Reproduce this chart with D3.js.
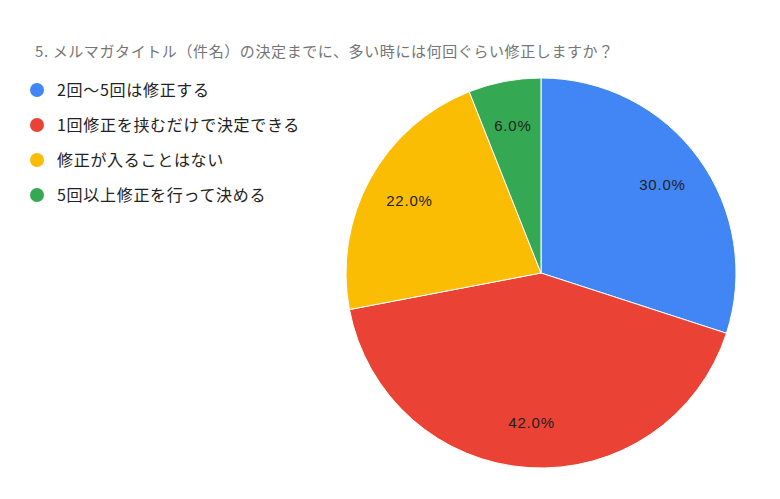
<!DOCTYPE html>
<html>
<head>
<meta charset="utf-8">
<script src="https://cdn.jsdelivr.net/npm/d3@7"></script>
<style>
  body { margin: 0; background: #fff; }
  svg { display: block; font-family: "Noto Sans CJK JP", "Noto Sans", sans-serif; }
</style>
</head>
<body>
<svg id="chart"></svg>
<script>
// data
const title = "5. メルマガタイトル（件名）の決定までに、多い時には何回ぐらい修正しますか？";
const categories = ["2回〜5回は修正する", "1回修正を挟むだけで決定できる", "修正が入ることはない", "5回以上修正を行って決める"];
const values = [30, 42, 22, 6];
const colors = ["#4285F4", "#EA4335", "#FBBC04", "#34A853"];

const width = 780, height = 499;
const cx = 541, cy = 273, radius = 195;

const svg = d3.select("#chart").attr("width", width).attr("height", height);

svg.append("text")
    .attr("x", 35).attr("y", 57)
    .attr("font-size", 15)
    .attr("letter-spacing", 0.6)
    .attr("fill", "#757575")
    .text(title);

// legend
const legend = svg.append("g").selectAll("g")
    .data(categories)
    .enter().append("g")
    .attr("transform", (d, i) => `translate(37, ${90 + i * 35})`);

legend.append("circle")
    .attr("r", 7)
    .attr("fill", (d, i) => colors[i]);

legend.append("text")
    .attr("x", 20).attr("y", 6)
    .attr("font-size", 16)
    .attr("letter-spacing", 0.7)
    .attr("fill", "#222")
    .text(d => d);

// pie
const pie = d3.pie().sort(null).value(d => d);
const arc = d3.arc().innerRadius(0).outerRadius(radius);
const labelArc = d3.arc().innerRadius(radius * 0.77).outerRadius(radius * 0.77);

const g = svg.append("g").attr("transform", `translate(${cx}, ${cy})`);
const arcs = pie(values);

g.selectAll("path")
    .data(arcs)
    .enter().append("path")
    .attr("d", arc)
    .attr("fill", (d, i) => colors[i])
    .attr("stroke", "#fff")
    .attr("stroke-width", 1);

const total = d3.sum(values);
g.selectAll("text.lbl")
    .data(arcs)
    .enter().append("text")
    .attr("class", "lbl")
    .attr("transform", d => `translate(${labelArc.centroid(d)})`)
    .attr("text-anchor", "middle")
    .attr("dy", "0.35em")
    .attr("font-size", 15)
    .attr("letter-spacing", 0.8)
    .attr("font-family", "'Liberation Sans', Arial, sans-serif")
    .attr("fill", "#1f1f1f")
    .text(d => (d.value / total * 100).toFixed(1) + "%");
</script>
</body>
</html>
